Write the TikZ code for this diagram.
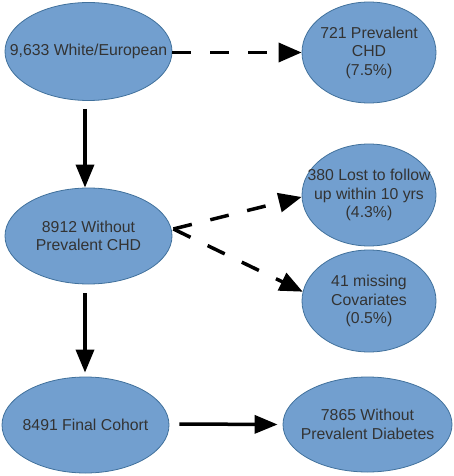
\documentclass[tikz,border=0pt]{standalone}
\usepackage{fontspec}
\setmainfont{Liberation Sans}
\usetikzlibrary{shapes.geometric,arrows.meta}
\definecolor{ellfill}{HTML}{729FCF}
\definecolor{elldraw}{HTML}{41719C}
\definecolor{txt}{HTML}{333333}
\begin{document}
\begin{tikzpicture}[x=1pt,y=-1pt,
  ell/.style={ellipse,draw=elldraw,line width=0.8pt,fill=ellfill,inner sep=0pt},
  lbl/.style={text=txt,align=center,inner sep=0pt,font=\fontsize{15.8}{18.5}\selectfont},
  solidarrow/.style={line width=3.5pt,-{Triangle[length=23pt,width=18pt]}},
  dasharrow/.style={line width=3.5pt,dash pattern=on 19pt off 19pt,-{Triangle[length=23pt,width=19pt]}}]
\useasboundingbox (0,0) rectangle (454,476);
\node[ell,minimum width=167pt,minimum height=98pt,label={[lbl]center:9,633 White/European}] (A) at (88.5,51.5) {};
\node[ell,minimum width=134pt,minimum height=101pt,label={[lbl]center:721 Prevalent\\CHD\\(7.5\%)}] (B) at (369,52.5) {};
\node[ell,minimum width=167pt,minimum height=96pt,label={[lbl]center:8912 Without\\Prevalent CHD}] (C) at (88.5,236) {};
\node[ell,minimum width=134pt,minimum height=102pt,label={[lbl]center:380 Lost to follow\\up within 10 yrs\\(4.3\%)}] (D) at (369,195) {};
\node[ell,minimum width=134pt,minimum height=102pt,label={[lbl]center:41 missing\\Covariates\\(0.5\%)}] (E) at (369,301) {};
\node[ell,minimum width=167pt,minimum height=96pt,label={[lbl]center:8491 Final Cohort}] (F) at (85.5,425) {};
\node[ell,minimum width=169pt,minimum height=95pt,label={[lbl]center:7865 Without\\Prevalent Diabetes}] (G) at (367.5,424.5) {};
\coordinate (split) at ([xshift=1pt,yshift=7pt]C.east);
\draw[dasharrow] ([yshift=-1pt]A.east) -- (B.west);
\draw[solidarrow] ([xshift=-3.5pt,yshift=-8pt]A.south) -- ([xshift=-3.5pt]C.north);
\draw[dasharrow] (split) -- ([yshift=-2pt]D.west);
\draw[dasharrow] (split) -- (E.172);
\draw[solidarrow] ([xshift=-3.5pt,yshift=-9pt]C.south) -- ([xshift=-0.5pt,yshift=4pt]F.north);
\draw[solidarrow] ([xshift=10pt,yshift=1pt]F.east) -- ([xshift=-5pt]G.west);
\end{tikzpicture}
\end{document}
